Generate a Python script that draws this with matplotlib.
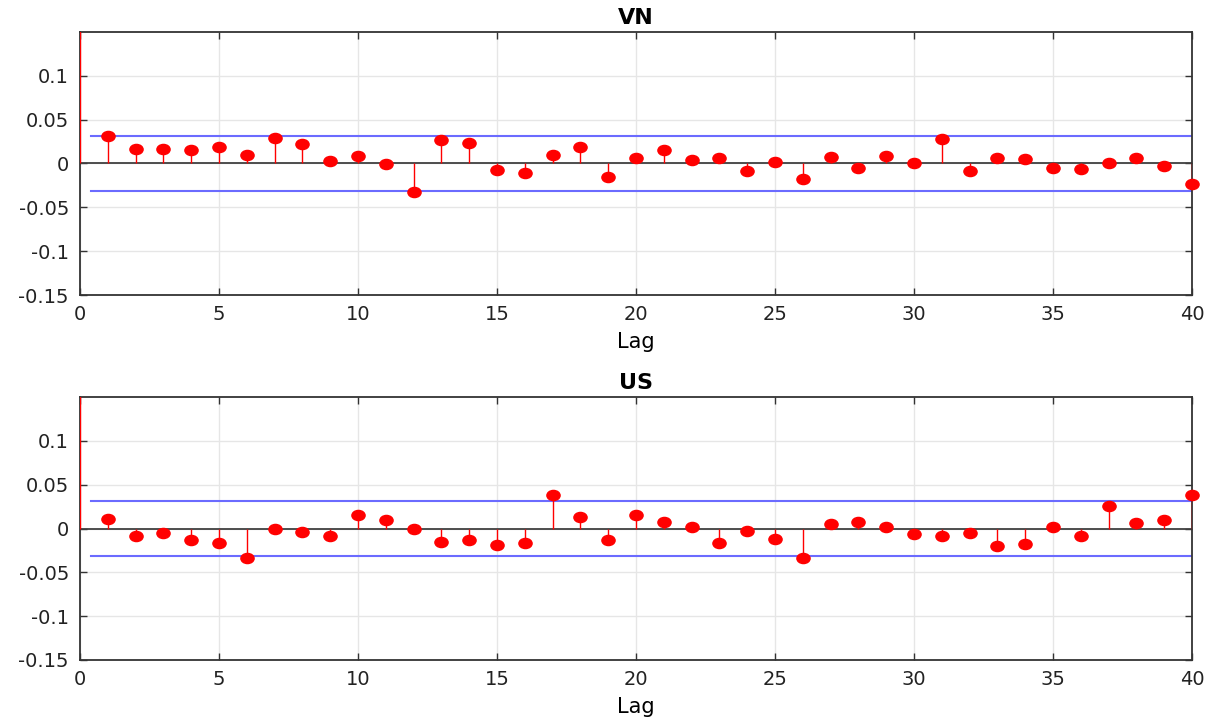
import numpy as np
import matplotlib.pyplot as plt
from matplotlib.path import Path

plt.rcParams['font.family'] = ['DejaVu Sans']

lags = np.arange(0, 41)
# sample autocorrelation, lag 0 .. 40
acf_vn = [1.0,
          0.031, 0.016, 0.017, 0.015, 0.019, 0.010, 0.029, 0.022, 0.003, 0.009,
          -0.001, -0.032, 0.027, 0.023, -0.007, -0.011, 0.010, 0.019, -0.015, 0.006,
          0.015, 0.004, 0.006, -0.009, 0.002, -0.018, 0.007, -0.005, 0.009, 0.000,
          0.028, -0.008, 0.006, 0.005, -0.005, -0.006, 0.001, 0.006, -0.003, -0.023]
acf_us = [1.0,
          0.011, -0.009, -0.005, -0.013, -0.017, -0.034, 0.000, -0.004, -0.009, 0.016,
          0.010, 0.000, -0.015, -0.013, -0.019, -0.016, 0.038, 0.013, -0.013, 0.016,
          0.007, 0.002, -0.017, -0.003, -0.012, -0.034, 0.005, 0.008, 0.002, -0.006,
          -0.009, -0.005, -0.020, -0.018, 0.002, -0.009, 0.026, 0.006, 0.010, 0.038]
bound = 0.0315
titles = ['VN', 'US']

# markers in the picture are slightly wider than tall
circ = Path.unit_circle()
ellipse = Path(circ.vertices * [1.3, 1.0], circ.codes)

fig = plt.figure(figsize=(12.12, 7.22), dpi=100)
ax1 = fig.add_axes([0.066, 0.5914, 0.9175, 0.3643])
ax2 = fig.add_axes([0.066, 0.0859, 0.9175, 0.3641])

for ax, acf, title in zip([ax1, ax2], [acf_vn, acf_us], titles):
    acf = np.array(acf)
    ax.vlines(lags, 0, acf, color='red', lw=1.0, zorder=3)
    ax.plot(lags[1:], acf[1:], ls='none', marker=ellipse, color='red',
            ms=9.5, clip_on=False, zorder=4)
    ax.axhline(0, color='#404040', lw=1.3, zorder=2)
    ax.plot([0.4, 40], [bound, bound], color='#6b6bff', lw=1.5, zorder=2)
    ax.plot([0.4, 40], [-bound, -bound], color='#6b6bff', lw=1.5, zorder=2)
    ax.set_xlim(0, 40)
    ax.set_ylim(-0.15, 0.15)
    ax.set_xticks(range(0, 41, 5))
    ax.set_yticks([-0.15, -0.1, -0.05, 0, 0.05, 0.1])
    ax.set_yticklabels(['-0.15', '-0.1', '-0.05', '0', '0.05', '0.1'])
    ax.grid(True, color='#e6e6e6', lw=1.0)
    ax.set_axisbelow(True)
    ax.tick_params(direction='in', top=True, right=True, labelsize=14,
                   length=5, width=1.0, color='#333333', labelcolor='#222222',
                   pad=8)
    ax.tick_params(axis='x', pad=7)
    for s in ax.spines.values():
        s.set_color('#333333')
        s.set_linewidth(1.3)
    ax.set_xlabel('Lag', fontsize=15, labelpad=6)
    ax.set_title(title, fontsize=16, fontweight='bold', pad=6)

fig.savefig('out.png', dpi=100)
